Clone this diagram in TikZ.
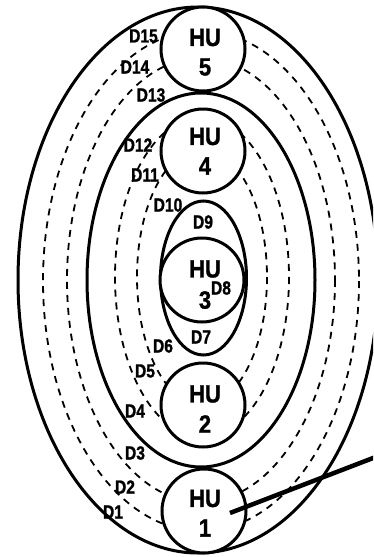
\documentclass[tikz,border=0pt]{standalone}
\usepackage{fontspec}
\setmainfont{Liberation Sans}
\newfontfamily\hufont[FakeStretch=0.88,FakeBold=1.2]{Liberation Sans}
\newfontfamily\dfont[FakeStretch=0.82,FakeBold=1.2]{Liberation Sans}
\begin{document}
\begin{tikzpicture}[x=1pt,y=-1pt,
  solidline/.style={line width=3pt},
  dashline/.style={line width=1.8pt, dash pattern=on 7pt off 6pt},
  hu/.style={circle, draw, line width=3pt, fill=white, minimum size=84pt, inner sep=0pt},
  hut/.style={font=\hufont\bfseries\fontsize{25}{25}\selectfont, inner sep=0pt},
  dlab/.style={font=\dfont\bfseries\fontsize{19}{19}\selectfont, inner sep=0pt}
]
\useasboundingbox (0,0) rectangle (373,557);
\clip (0,0) rectangle (373,557);
% rings
\draw[solidline] (198,280) ellipse [x radius=180, y radius=273];
\draw[dashline] (201,281) ellipse [x radius=158, y radius=250];
\draw[dashline] (201,280) ellipse [x radius=134, y radius=222];
\draw[solidline] (201,280) ellipse [x radius=114, y radius=187];
\draw[dashline] (202,277) ellipse [x radius=87, y radius=160];
\draw[dashline] (202,277) ellipse [x radius=65, y radius=128];
\draw[solidline] (203.5,278) ellipse [x radius=43, y radius=77];
% hosts
\node[hu] (hu5) at (203,49) {};
\node[hu] (hu4) at (203,151) {};
\node[hu] (hu3) at (202,280) {};
\node[hu] (hu2) at (203,405) {};
\node[hu] (hu1) at (204,511) {};
\node[hut] (t5a) at (205,37.5) {HU};
\node[hut] (t5b) at (205,67) {5};
\node[hut] (t4a) at (205,136.5) {HU};
\node[hut] (t4b) at (205,166) {4};
\node[hut] (t3a) at (205,269) {HU};
\node[hut] (t3b) at (205,300) {3};
\node[hut] (t2a) at (205,394) {HU};
\node[hut] (t2b) at (205,424) {2};
\node[hut] (t1a) at (205,498.5) {HU};
\node[hut] (t1b) at (205,528) {1};
% labels
\node[dlab] (d15) at (143.5,36) {D15};
\node[dlab] (d14) at (135,67) {D14};
\node[dlab] (d13) at (151,95) {D13};
\node[dlab] (d12) at (138,145) {D12};
\node[dlab] (d11) at (145,175) {D11};
\node[dlab] (d10) at (168,205) {D10};
\node[dlab] (d9) at (203,222) {D9};
\node[dlab] (d8) at (221,288) {D8};
\node[dlab] (d7) at (201,337) {D7};
\node[dlab] (d6) at (163,346) {D6};
\node[dlab] (d5) at (145,371) {D5};
\node[dlab] (d4) at (135,411) {D4};
\node[dlab] (d3) at (135,453) {D3};
\node[dlab] (d2) at (125,487) {D2};
\node[dlab] (d1) at (113,512) {D1};
% link
\coordinate (lk1) at (230,513);
\coordinate (lk2) at (390,451.5);
\draw[line width=4.5pt] (lk1) -- (lk2);
\end{tikzpicture}
\end{document}
